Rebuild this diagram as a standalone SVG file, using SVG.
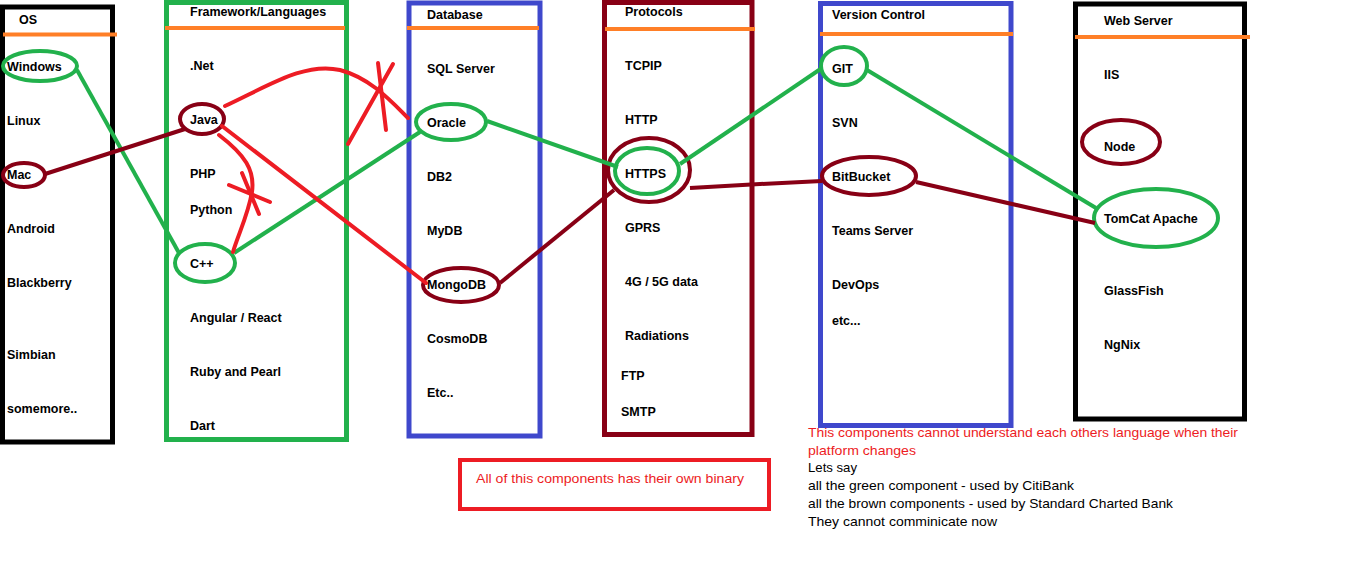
<svg xmlns="http://www.w3.org/2000/svg" width="1360" height="563" viewBox="0 0 1360 563">
<style>
.t{font-family:"Liberation Sans",Arial,sans-serif;font-weight:bold;font-size:12.5px;fill:#000}
.n{font-family:"Liberation Sans",Arial,sans-serif;font-size:13px}
.box{fill:none;stroke-width:5}
.or{stroke:#ff7f27;stroke-width:4;fill:none}
.g{stroke:#22b14c;stroke-width:4;fill:none}
.b{stroke:#880015;stroke-width:4;fill:none}
.r{stroke:#ed1c24;stroke-width:4;fill:none;stroke-linecap:round}
</style>
<rect width="1360" height="563" fill="#fff"/>

<g id="os">
<rect class="box" x="2.5" y="7" width="110" height="435" stroke="#000"/>
<line class="or" x1="3" y1="34.5" x2="117" y2="34.5"/>
<text class="t" x="19" y="24">OS</text>
<g id="os-windows"><ellipse class="g" cx="40" cy="66" rx="37" ry="15"/><text class="t" x="7" y="71">Windows</text></g>
<text class="t" x="7" y="125">Linux</text>
<g id="os-mac"><ellipse class="b" cx="24" cy="175" rx="21" ry="12"/><text class="t" x="7" y="179">Mac</text></g>
<text class="t" x="7" y="233">Android</text>
<text class="t" x="7" y="287">Blackberry</text>
<text class="t" x="7" y="359">Simbian</text>
<text class="t" x="7" y="413">somemore..</text>
</g>

<g id="framework">
<rect class="box" x="166.5" y="2.5" width="180" height="437" stroke="#22b14c"/>
<line class="or" x1="165" y1="28" x2="345" y2="28"/>
<text class="t" x="190" y="16">Framework/Languages</text>
<text class="t" x="190" y="70">.Net</text>
<g id="fw-java"><ellipse class="b" cx="202" cy="119" rx="22" ry="15"/><text class="t" x="190" y="124">Java</text></g>
<text class="t" x="190" y="178">PHP</text>
<text class="t" x="190" y="214">Python</text>
<g id="fw-cpp"><ellipse class="g" cx="205" cy="263" rx="30" ry="19"/><text class="t" x="190" y="268">C++</text></g>
<text class="t" x="190" y="322">Angular / React</text>
<text class="t" x="190" y="376">Ruby and Pearl</text>
<text class="t" x="190" y="430">Dart</text>
</g>

<g id="database">
<rect class="box" x="409" y="3" width="131" height="433" stroke="#3f48cc"/>
<line class="or" x1="407" y1="28" x2="539" y2="28"/>
<text class="t" x="427" y="19">Database</text>
<text class="t" x="427" y="73">SQL Server</text>
<g id="db-oracle"><ellipse class="g" cx="451" cy="122" rx="35" ry="18"/><text class="t" x="427" y="127">Oracle</text></g>
<text class="t" x="427" y="181">DB2</text>
<text class="t" x="427" y="235">MyDB</text>
<g id="db-mongo"><ellipse class="b" cx="461" cy="285" rx="38" ry="17"/><text class="t" x="427" y="289">MongoDB</text></g>
<text class="t" x="427" y="343">CosmoDB</text>
<text class="t" x="427" y="397">Etc..</text>
</g>

<g id="protocols">
<rect class="box" x="604.5" y="2.5" width="147.5" height="432" stroke="#880015"/>
<line class="or" x1="605" y1="29" x2="755" y2="29"/>
<text class="t" x="625" y="16">Protocols</text>
<text class="t" x="625" y="70">TCPIP</text>
<text class="t" x="625" y="124">HTTP</text>
<g id="pr-https"><ellipse class="b" cx="649" cy="170" rx="41" ry="32"/><ellipse class="g" cx="647" cy="171" rx="32" ry="23"/><text class="t" x="625" y="178">HTTPS</text></g>
<text class="t" x="625" y="232">GPRS</text>
<text class="t" x="625" y="286">4G / 5G data</text>
<text class="t" x="625" y="340">Radiations</text>
<text class="t" x="621" y="380">FTP</text>
<text class="t" x="621" y="416">SMTP</text>
</g>

<g id="version-control">
<rect class="box" x="820.5" y="3.5" width="190.5" height="422" stroke="#3f48cc"/>
<line class="or" x1="820" y1="34" x2="1013" y2="34"/>
<text class="t" x="832" y="19">Version Control</text>
<g id="vc-git"><ellipse class="g" cx="844" cy="66" rx="23" ry="19"/><text class="t" x="832" y="73">GIT</text></g>
<text class="t" x="832" y="127">SVN</text>
<g id="vc-bitbucket"><ellipse class="b" cx="869" cy="176" rx="47" ry="19"/><text class="t" x="832" y="181">BitBucket</text></g>
<text class="t" x="832" y="235">Teams Server</text>
<text class="t" x="832" y="289">DevOps</text>
<text class="t" x="832" y="325">etc...</text>
</g>

<g id="web-server">
<rect class="box" x="1075.5" y="4" width="169" height="415" stroke="#000"/>
<line class="or" x1="1075" y1="37" x2="1250" y2="37"/>
<text class="t" x="1104" y="25">Web Server</text>
<text class="t" x="1104" y="79">IIS</text>
<g id="ws-node"><ellipse class="b" cx="1121" cy="142" rx="39" ry="22"/><text class="t" x="1104" y="151">Node</text></g>
<g id="ws-tomcat"><ellipse class="g" cx="1156" cy="218" rx="62" ry="29"/><text class="t" x="1104" y="223">TomCat Apache</text></g>
<text class="t" x="1104" y="295">GlassFish</text>
<text class="t" x="1104" y="349">NgNix</text>
</g>

<g id="connectors">
<line class="g" x1="77" y1="70" x2="179" y2="253"/>
<line class="b" x1="45" y1="174" x2="185" y2="129"/>
<line class="g" x1="234" y1="253" x2="420" y2="132"/>
<path class="r" d="M225,106 C270,85 305,62 340,70 C370,78 390,100 408,118"/>
<line class="r" x1="378" y1="63" x2="386" y2="130"/>
<line class="r" x1="393" y1="64" x2="348" y2="144"/>
<path class="r" d="M219,135 C245,155 255,170 252,192 C248,215 238,235 233,252"/>
<line class="r" x1="229" y1="185" x2="270" y2="202"/>
<line class="r" x1="242" y1="173" x2="259" y2="214"/>
<line class="r" x1="222" y1="126" x2="426" y2="283"/>
<line class="b" x1="500" y1="283" x2="614" y2="190"/>
<line class="g" x1="487" y1="121" x2="618" y2="167"/>
<line class="g" x1="680" y1="164" x2="822" y2="68"/>
<path class="b" d="M690,188 L760,184 L822,181"/>
<line class="g" x1="867" y1="70" x2="1096" y2="208"/>
<line class="b" x1="916" y1="182" x2="1095" y2="223"/>
</g>

<g id="note-binary">
<rect x="460" y="460" width="309" height="49" fill="none" stroke="#ed1c24" stroke-width="4"/>
<text class="n" x="476" y="483" fill="#ed1c24" textLength="268" lengthAdjust="spacingAndGlyphs">All of this components has their own binary</text>
</g>

<g id="note-text" class="n">
<text x="808" y="437" fill="#ed1c24" textLength="430" lengthAdjust="spacingAndGlyphs">This components cannot understand each others language when their</text>
<text x="808" y="455" fill="#ed1c24" textLength="108" lengthAdjust="spacingAndGlyphs">platform changes</text>
<text x="808" y="472" fill="#000" textLength="49" lengthAdjust="spacingAndGlyphs">Lets say</text>
<text x="808" y="490" fill="#000" textLength="266" lengthAdjust="spacingAndGlyphs">all the green component - used by CitiBank</text>
<text x="808" y="508" fill="#000" textLength="365" lengthAdjust="spacingAndGlyphs">all the brown components - used by Standard Charted Bank</text>
<text x="808" y="526" fill="#000" textLength="189" lengthAdjust="spacingAndGlyphs">They cannot comminicate now</text>
</g>
</svg>
